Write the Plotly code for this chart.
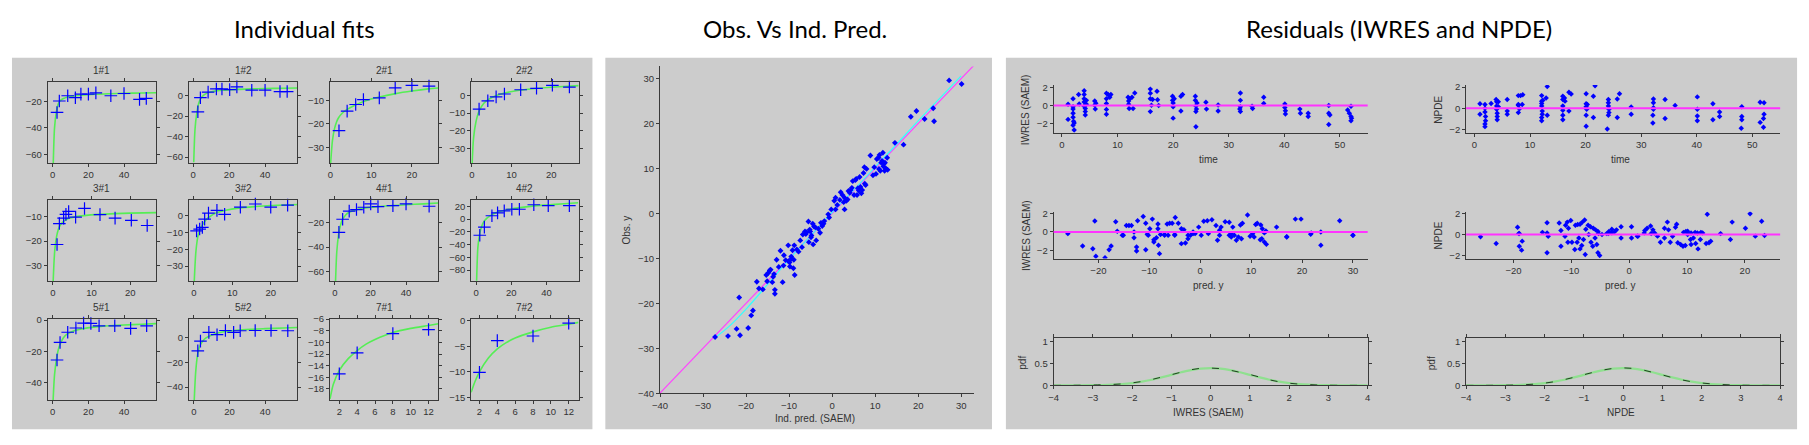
import plotly.graph_objects as go

W, H = 1809, 445

# ---------------- Individual fits data ----------------
obs_t_11 = [2.4, 3.7, 8.4, 12.7, 15.8, 20, 24.2, 32.6, 40, 48.7, 52.5]
obs_y_11 = [-28.2, -19.5, -15.5, -17, -14.3, -14.3, -13.3, -15.5, -13.8, -18.3, -17.5]
fit_t_11 = [0.3, 1, 2, 3, 4, 6, 8, 12, 16, 24, 32, 40, 50, 58]
fit_y_11 = [-66.7, -40, -28, -22, -19.5, -17.6, -16.6, -15.7, -15.1, -14.4, -14, -13.7, -13.4, -13.2]

obs_t_12 = [2.6, 4, 8.3, 12.9, 16, 20.3, 24.3, 32.6, 40, 48.3, 52.3]
obs_y_12 = [-15.9, -2.2, 3.2, 6.3, 6.3, 5.7, 8.3, 5.1, 5.1, 3.8, 3.8]
fit_t_12 = [0.3, 1, 2, 3, 4, 6, 8, 12, 16, 24, 32, 40, 50, 58]
fit_y_12 = [-65, -33, -17, -8, -3.5, 0.5, 2.5, 4.2, 5.0, 5.9, 6.4, 6.7, 7.0, 7.2]

obs_t_21 = [2.1, 4.1, 6.2, 8.1, 12, 15.9, 20, 24.2]
obs_y_21 = [-22.9, -14.6, -11.8, -9.7, -9.0, -4.8, -3.7, -4.0]
fit_t_21 = [0.05, 0.5, 1, 1.5, 2, 3, 4, 6, 8, 10, 12, 16, 20, 24, 26.5]
fit_y_21 = [-36.6, -27, -22, -19.2, -17.4, -15.3, -14, -12.1, -10.6, -9.5, -8.6, -7.2, -6.1, -5.2, -4.8]

obs_t_22 = [1.8, 4, 6.1, 8.2, 12.3, 16.3, 20.3, 24.6]
obs_y_22 = [-7.8, -3.1, -0.9, 0.7, 3.1, 3.9, 5.6, 4.6]
fit_t_22 = [0.05, 0.4, 1, 1.8, 3, 4, 6, 8, 12, 16, 20, 24, 27]
fit_y_22 = [-38, -24, -15, -8.8, -4.5, -2.6, -0.3, 1.1, 2.8, 3.8, 4.5, 5, 5.4]

obs_t_31 = [1.1, 1.7, 2.8, 3.4, 4.1, 5.9, 8.2, 12.2, 16.1, 20.3, 24.4]
obs_y_31 = [-21.4, -12.9, -10.7, -9.2, -8.0, -10.3, -6.8, -9.3, -10.7, -11.6, -13.7]
fit_t_31 = [0.1, 0.5, 1, 1.5, 2, 3, 4, 6, 8, 12, 16, 20, 26.7]
fit_y_31 = [-36.2, -24, -18, -15, -13.4, -11.7, -10.9, -10.1, -9.7, -9.2, -8.9, -8.7, -8.5]

obs_t_32 = [0.7, 1.5, 2.2, 2.8, 3.8, 6, 8, 12.1, 16, 20, 24.4]
obs_y_32 = [-9.2, -8.1, -7.1, -2.3, 1.3, 2.9, 0.6, 4.8, 6.7, 4.8, 6.0]
fit_t_32 = [0.1, 0.5, 1, 1.5, 2, 3, 4, 6, 8, 12, 16, 20, 27]
fit_y_32 = [-38.8, -22, -13, -9, -6.5, -3, -1, 1.6, 2.9, 4.4, 5.2, 5.8, 6.4]

obs_t_41 = [2.2, 4.3, 8, 12.1, 16.2, 20.1, 24.2, 32.6, 40, 53]
obs_y_41 = [-27.8, -17, -10.3, -9, -7.1, -4.4, -6.6, -5.8, -4.4, -6.3]
fit_t_41 = [0.3, 1, 2, 3, 4, 6, 8, 12, 16, 24, 32, 40, 50, 58]
fit_y_41 = [-68, -44, -30, -22.5, -18, -13.5, -11.3, -9.1, -7.9, -6.6, -5.8, -5.1, -4.3, -3.6]

obs_t_42 = [2.1, 4.7, 9, 12.2, 16, 20.3, 24.6, 32.8, 41, 53]
obs_y_42 = [-25.5, -12.8, 5.1, 9.7, 12.8, 15.3, 15.3, 22.4, 20.9, 20.9]
fit_t_42 = [0.3, 1, 2, 3, 4, 6, 8, 12, 16, 20, 24, 32, 40, 50, 58]
fit_y_42 = [-97, -45, -24, -13, -6, 1, 5, 10.5, 13.5, 15.8, 17.5, 20.2, 22, 24, 25.5]

obs_t_51 = [2.4, 4.1, 8.4, 13, 17.3, 21.4, 26, 34.8, 43.7, 52.7]
obs_y_51 = [-25.5, -14.3, -7.8, -5.1, -2.0, -2.2, -3.7, -3.7, -5.3, -3.7]
fit_t_51 = [0.2, 1, 2, 3, 4, 6, 8, 12, 16, 24, 32, 40, 50, 58]
fit_y_51 = [-51, -35, -25.5, -19.5, -15.8, -11.3, -9, -6.8, -5.7, -4.4, -3.7, -3.2, -2.7, -2.3]

obs_t_52 = [2.2, 3.7, 8.4, 13, 17.7, 22.3, 26, 34.4, 43.3, 52.7]
obs_y_52 = [-10.5, -2.6, 4.5, 2.6, 6.0, 4.5, 5.8, 6.0, 6.0, 5.8]
fit_t_52 = [0.2, 1, 2, 3, 4, 6, 8, 12, 16, 24, 32, 40, 50, 58]
fit_y_52 = [-50.5, -28, -14.5, -8, -4.6, -0.9, 1, 3.4, 4.8, 6.2, 7, 7.5, 8, 8.4]

obs_t_71 = [2, 4, 8, 12]
obs_y_71 = [-15.4, -11.8, -8.5, -7.8]
fit_t_71 = [0.96, 1.33, 2, 3, 4, 5, 6, 8, 10, 12, 13.1]
fit_y_71 = [-19.7, -17.2, -14.8, -12.8, -11.4, -10.3, -9.5, -8.3, -7.6, -7.1, -6.8]

obs_t_72 = [2, 4, 8, 12]
obs_y_72 = [-10.1, -3.9, -3.0, -0.5]
fit_t_72 = [1.07, 1.5, 2, 3, 4, 5, 6, 8, 10, 12, 13.1]
fit_y_72 = [-14.0, -11.9, -10.0, -7.3, -5.5, -4.3, -3.4, -2.2, -1.3, -0.7, -0.35]

subject_labels = ["1#1", "1#2", "2#1", "2#2", "3#1", "3#2", "4#1", "4#2", "5#1", "5#2", "7#1", "7#2"]

# ---------------- Obs vs Ind. pred ----------------
ind_pred = [-27.2, -24.2, -22.2, -21.4, -21.6, -19.5, -18.8, -18.4, -17.5, -17, -16.1, -15.3, -15.1, -14.8,
            -14.5, -14.3, -13.9, -13.7, -13.5, -13.3, -13.3, -12.9, -12, -11.5, -11.3, -11.2, -10.8, -10.2,
            -10.1, -9.8, -9.5, -9.4, -9.2, -9, -8.8, -8.7, -8.9, -8.2, -7.8, -7.4, -7, -6.8, -6.3, -5.9,
            -5.5, -5.4, -5.1, -4.8, -4.5, -4.4, -4.2, -3.7, -3.2, -2.8, -2.3, -2, -1.8, -0.9, -0.7, -0.2,
            0.5, 0.8, 0.8, 1.8, 2, 2.4, 2.7, 2.9, 2.9, 3.3, 3.8, 4.3, 4.6, 4.8, 5.1, 5.4, 5.6, 5.8, 6,
            6.4, 6.6, 6.8, 7, 7.3, 7.5, 7.8, 8, 8.9, 9.5, 9.8, 10.2, 10.4, 10.8, 11, 11.2, 11.4, 11.6,
            11.8, 11.9, 12.2, 12.3, 12.5, 12.8, 12.9, 14.6, 16.6, 18.3, 19.6, 21.5, 23.5, 23.7, 27.2, 30.1,
            -12.4, -9.9, -6.1, -3.9, 1.2, 3.6, 4.1, 6.2, 7.6, 10.9, 12.1, -5.2, -4.9, -2.6]
obs_y = [-27.5, -27.3, -25.7, -27.1, -18.7, -25.5, -22.7, -21.6, -15.2, -16.7, -16.9, -13.7, -15.1, -13.2,
         -12.7, -12.5, -15.3, -14.1, -13.5, -17, -17.9, -10.3, -8.3, -15.3, -11.6, -9.3, -10.4, -7.1,
         -10.6, -11.8, -9.6, -10.1, -8.2, -12.2, -7.1, -13.7, -10.3, -8, -8.5, -6, -7.5, -4.7, -4, -4.2,
         -1.8, -6.4, -4, -4.9, -2.3, -6.9, -2.9, -6, -3.4, -4.3, -2.8, -2.3, -1.7, -0.2, -0.9, 0.9,
         2.8, 3.5, 0.9, 3, 4.7, 4.1, 2.5, 3.5, 0.9, 2.8, 5, 5.2, 5.7, 7.2, 4.1, 7.4, 7.7, 4.1, 5.6,
         8.1, 5.9, 4.5, 5.2, 9.0, 10.3, 6.3, 9.9, 12.9, 8.5, 10.3, 8.8, 12.1, 12.4, 13, 9.5, 11.3, 11.7,
         13.5, 10.5, 9.5, 11.3, 10, 12.4, 9.7, 15.7, 15.3, 21.5, 22.8, 21, 23.4, 20.5, 29.6, 28.8,
         -11.9, -10.9, -4.6, -3.1, 1.9, 3.1, 4.6, 5.1, 6.6, 9.9, 11.1, -3.6, -5.3, -2.1]
cyan_x = [-27, -24, -20, -15, -10, -5, 0, 5, 10, 15, 20, 25, 30]
cyan_y = [-27.5, -25.2, -21.3, -15.8, -10.2, -5.0, 0.2, 5.2, 10.3, 15.4, 20.6, 25.6, 30.6]
identity_xy = [-40, 33]

# ---------------- Residuals ----------------
iw_time = [1.1, 1.1, 2, 2, 2, 2, 2, 2.1, 2.2, 2.2, 2, 3, 3.1, 4, 4, 4, 4, 4, 4.2, 4.2, 4.2, 4.4, 4.4,
           5.9, 5.9, 6, 6.1, 8, 8, 8, 8, 8, 8.3, 8.6, 8.8, 11.9, 12, 12, 12.1, 12.2, 12.6, 12.8, 13.1,
           15.9, 15.9, 15.9, 16.1, 15.9, 16.3, 17.1, 17.2, 17.4, 19.9, 19.9, 20, 20, 20, 20.2, 21.4,
           21.7, 21.4, 24, 24, 24.1, 24.2, 24.1, 24.1, 24.3, 25.9, 26, 28.1, 28.1, 32.1, 32.1, 32.1, 32,
           32.1, 34.2, 34.3, 36.3, 36.3, 40.1, 40.1, 40.2, 40.2, 42.8, 42.9, 44.3, 44.3, 48, 48, 48,
           48.2, 51.4, 51.7, 52, 52, 52, 52.1]
iw_t_val = [0.14, -1.55, 0.76, -0.14, -0.4, -0.86, -1.3, -1.77, -1.95, -2.74, -2.2, 1.23, 0.18, 1.66,
            1.23, 0.76, 0.4, -0.07, -0.32, -0.68, -1.05, 0.58, 0.14, 0.5, 0.04, -0.4, 0.25, 1.37, 0.76,
            0.22, -0.43, -0.97, 1.23, 0.94, 1.23, 0.94, 0.5, 0.14, -0.32, 0.76, 0.94, -0.32, 1.4, 1.84,
            1.37, 0.76, 0.04, -0.68, 0.68, 1.59, 0.65, 0, 1.05, 0.58, 0.29, -0.14, -1.41, 0.76, 1.05,
            1.23, -0.61, 1.05, 0.58, -0.04, -0.4, -0.68, -2.38, 0.29, 0.36, -0.4, 0.07, -0.61, 1.4, 0.58,
            -0.14, -0.4, -0.68, -0.07, -0.32, 0.94, 0.22, 0.18, -0.22, -0.58, -0.94, -0.4, -0.86, -0.86,
            -1.23, 0, -0.86, -2.13, -1.05, -0.5, -0.86, -0.07, -1.23, -1.7, -1.41]

np_time = [1, 1, 1.9, 1.9, 1.9, 2, 2, 1.9, 1.9, 3, 3.9, 4, 4, 4, 4.1, 4.1, 4.1, 4.3, 4.3, 5.9, 5.9, 5.9,
           7.9, 7.9, 7.9, 7.9, 8.1, 8.3, 8.6, 8.7, 12.1, 12.1, 12.1, 12.1, 12.2, 12.2, 12.1, 12.1, 12.3,
           12.9, 13.1, 13.1, 15.9, 15.9, 15.9, 15.9, 15.9, 15.9, 16.2, 16.3, 17, 17.4, 17, 20.1, 20.1,
           20.1, 20.2, 20.1, 20.1, 20.3, 21.4, 21.7, 21.4, 24.1, 24.1, 24.1, 24.2, 24.2, 24.1, 23.9,
           25.7, 26.1, 25.7, 28.2, 28.2, 32.2, 32.2, 32.2, 32.2, 32.1, 32.1, 34.3, 34.3, 36.1, 40.1,
           40.1, 40.1, 40.1, 42.9, 42.9, 44.1, 44.1, 48.1, 48.1, 48.1, 48, 51.4, 52.1, 51.4, 52, 52.1, 52]
np_t_val = [0.43, -0.55, 0.37, 0, -0.34, -0.77, -1.17, -1.48, -1.72, 0.46, 0.83, 0.62, 0.22, -0.09,
            -0.46, -0.77, -1.08, 0.62, 0.15, 0.83, -0.25, -0.55, 1.2, 0.37, -0.4, 0.3, -0.03, 1.2, 0.37,
            1.29, 1.2, 0.68, 0.46, 0.22, -0.25, -0.55, -0.86, -1.17, 0.77, 0.98, -0.65, 2.06, 1.14, 0.83,
            0.22, -0.18, -0.65, -1.08, 0.98, 0.68, 1.51, 1.35, -0.25, 1.38, 0.43, 0.15, -0.09, -0.65,
            -1.69, 0.37, 1.14, 2.12, -0.86, 0.83, 0.52, 0.22, -0.09, -0.4, -0.65, -1.94, 0.89, 1.38,
            -0.86, 0.12, -0.55, 0.89, 0.52, 0.06, -0.09, -0.65, -1.38, 0.83, -0.95, 0.28, 1.08, -0.09,
            -0.71, -1.17, 0.43, -1.08, -0.34, -0.77, 0.15, -0.77, -1.08, -1.88, 0.58, 0.52, -1.32, -0.95,
            -0.55, -1.78]

iw_pred = [-26, -20.7, -16.6, -16.3, -15.1, -14.5, -14, -13.5, -13, -12.3, -11.2, -10.7, -10.2, -9.4,
           -9.9, -8.3, -8.3, -7.8, -7, -6.5, -6, -5.5, -4.9, -5, -4.3, -3.7, -3.2, -2.4, -1.4, -1,
           -0.3, 0.7, 1.4, 2.3, 3.1, 3.8, 4.1, 4.9, 5.7, 6.4, 6.1, 6.7, 7.9, 8.3, 9.3, 10.3, 10.9, 11.2,
           11.9, 12.2, 12.6, 12.9, 15, 17, 18.7, 19.8, 21.8, 23.7, 27.4, 30,
           -23.1, -21.1, -20.5, -18.7, -17.9, -17.5, -15.3, -13, -12.5, -12.5, -10.7, -10.4, -9.1, -9.1,
           -8.6, -8.2, -8, -7, -6.3, -5, -3.7, -2.9, -2.4, -1.9, -1.4, 0.2, 1.6, 3.4, 3.8, 5.7, 6.1,
           7.1, 7.5, 8.1, 9.8, 10.6, 11.8, 12.1, 12.6, 13, 17, 21.7, 23.7, 30]
iw_p_val = [-0.18, 1.19, 1.12, 0.07, -0.35, 0.7, 0.7, 0.7, 0, 1.23, 1.68, 0.95, -0.35, 1.4, 0.35, 0.88,
            0.35, -0.28, -0.28, 0.88, 0.95, 0.95, 1.58, -0.28, 0.95, 0.35, 0.25, -0.35, 0, -0.18, 0.53,
            1.16, 1.23, 1.33, 0.7, 0.18, 0.53, 1.12, 1.05, 0.53, -0.18, -0.35, 0.77, 0.95, 1.86, -0.18,
            0.81, 0.95, 0.77, 0.35, -0.1, 0.1, 0.53, -0.53, 1.4, 1.4, -0.1, 0, 1.23, -0.35,
            -1.53, -1.82, -2.65, -2.8, -1.93, -1.53, -0.36, -0.62, -1.64, -2.07, -1.93, -0.25, -0.84,
            -1.09, -0.62, -1.45, -2.36, -0.36, -0.36, -0.36, -1.27, -1.2, -0.73, -0.36, -0.18, -0.36,
            -0.18, -0.91, -0.36, -0.36, -0.55, -0.91, -0.55, -0.73, -0.47, -0.55, -0.84, -0.73, -1.09,
            -1.35, -0.55, -0.25, -1.45, -0.36]

np_pred = [-25.7, -19.3, -19.1, -15, -14.2, -14.2, -12.1, -11.8, -11, -10.7, -10.5, -10.1, -9.3, -8.9,
           -8.5, -8.1, -7.7, -7.5, -7.1, -6.7, -6.2, -5.8, -5.4, -5.3, -3.9, -3.5, -3, -2.5, -2.2, -1.4,
           0.4, 1.4, 2.7, 3.1, 3.7, 4.1, 4.4, 4.9, 6.1, 6.6, 6.8, 8, 8.2, 9.4, 9.8, 10.1, 10.7, 11.4,
           11.8, 12.4, 13.5, 15.8, 17.8, 20.1, 20.9, 21.8, 22.9,
           -23, -19, -19, -18.6, -18.5, -14.2, -14, -11.8, -11.1, -10.6, -9.9, -9.4, -9, -8.7, -8.5,
           -8.2, -7.9, -7.6, -7, -6.6, -6.3, -5.9, -5.6, -5.4, -5.1, -4.7, -3.6, -3, -1.4, 0.4, 1.5,
           2.6, 3.8, 5.4, 6.1, 7.1, 7.5, 8.4, 8.9, 9.3, 9.7, 10.1, 10.6, 10.7, 11.1, 11.5, 11.9, 12.3,
           12.7, 13.3, 13.8, 14.1, 17.5, 23.4]
np_p_val = [-0.2, 0.69, 0.09, 0.21, 1.13, 0.15, 1.1, 0.39, 0.9, 1.19, 0.6, 1.34, 0.9, 0.96, 0.99, 1.19,
            1.4, 0.51, 0.9, 0.75, 0.6, 0.45, 0.3, 0.09, 0.09, 0.3, 0.51, 0.3, 0.45, 0.75, 0.75, -0.15,
            0.39, 0.6, 0.81, 0.45, 0.15, -0.15, 0.6, 1.19, 0.45, 0.69, 0.99, 0.21, 0.3, 0, 0.15, 0.21,
            0.15, 0.21, 1.94, 0.09, 1.19, 0.6, 2.0, -0.15, 1.28,
            -0.86, 0.1, -1.11, -1.49, -0.63, -1.75, -0.16, -1.11, -0.16, -0.73, -0.73, -1.43, -0.73,
            -0.32, -1.37, -1.05, -0.48, -1.9, 0, -0.73, -1.11, -0.32, -0.95, -1.75, -2.0, 0, 0.1, 0.16,
            -0.32, -0.32, -0.16, 0.16, 0.1, -0.73, -0.32, -0.73, -0.16, -0.79, -0.95, -1.11, -1.05,
            0.32, -0.48, -0.95, -0.32, -0.86, -1.37, -0.48, 0.16, -0.86, -0.79, -0.63, -0.48, -0.1, -0.63]

pdf_x = [-4, -3.5, -3, -2.75, -2.5, -2.25, -2, -1.75, -1.5, -1.25, -1, -0.75, -0.5, -0.25, 0,
         0.25, 0.5, 0.75, 1, 1.25, 1.5, 1.75, 2, 2.25, 2.5, 2.75, 3, 3.5, 4]
pdf_theory = [0.0, 0.001, 0.004, 0.009, 0.018, 0.032, 0.054, 0.086, 0.13, 0.183, 0.242, 0.301, 0.352,
              0.387, 0.399, 0.387, 0.352, 0.301, 0.242, 0.183, 0.13, 0.086, 0.054, 0.032, 0.018, 0.009,
              0.004, 0.001, 0.0]
pdf_iwres_emp = [0.0, 0.002, 0.008, 0.014, 0.022, 0.035, 0.058, 0.09, 0.135, 0.19, 0.245, 0.305, 0.36,
                 0.392, 0.398, 0.385, 0.348, 0.3, 0.25, 0.19, 0.128, 0.082, 0.05, 0.03, 0.018, 0.008,
                 0.003, 0.001, 0.0]
pdf_npde_emp = [0.0, 0.001, 0.004, 0.008, 0.016, 0.03, 0.052, 0.085, 0.132, 0.186, 0.245, 0.303, 0.355,
                0.39, 0.402, 0.39, 0.355, 0.3, 0.24, 0.18, 0.126, 0.084, 0.055, 0.035, 0.02, 0.01,
                0.004, 0.001, 0.0]

# ---------------- layout helpers ----------------
def xd(x0, x1):
    return [x0 / W, x1 / W]

def yd(y0, y1):
    return [1 - y1 / H, 1 - y0 / H]

AX_COL = "#3a3a3a"
TICK_FONT = dict(family="Liberation Sans, Arial, sans-serif", size=9.5, color="#333333")
LBL_FONT = dict(family="Liberation Sans, Arial, sans-serif", size=10, color="#333333")
BLUE = "#0000ff"
LIME = "#55ee55"

fig = go.Figure()
layout = {}

def make_axes(n, xpx, ypx, xr, yr, xdt=None, ydt=None, xtv=None, ytv=None, mirror=True):
    common = dict(showline=True, linecolor=AX_COL, linewidth=1, ticks="outside", ticklen=3,
                  tickcolor=AX_COL, showgrid=False, zeroline=False, tickfont=TICK_FONT,
                  mirror="ticks" if mirror else False, fixedrange=True)
    xa = dict(common, domain=xd(*xpx), range=xr, anchor="y%d" % n)
    ya = dict(common, domain=yd(*ypx), range=yr, anchor="x%d" % n)
    if xdt is not None:
        xa["dtick"] = xdt
        xa["tick0"] = 0
    if ydt is not None:
        ya["dtick"] = ydt
        ya["tick0"] = 0
    if xtv is not None:
        xa["tickvals"] = xtv
    if ytv is not None:
        ya["tickvals"] = ytv
    layout["xaxis%d" % n] = xa
    layout["yaxis%d" % n] = ya

def text_at(t, x, y, font, angle=0):
    return dict(text=t, xref="paper", yref="paper", x=x / W, y=1 - y / H, textangle=angle,
                showarrow=False, font=font, xanchor="center", yanchor="middle")

# Individual fits grid
cols = [(40, 149), (182, 291), (324, 433), (466, 574)]
rows = [(78, 161), (199, 282), (321, 404)]
fits = [
    (obs_t_11, obs_y_11, fit_t_11, fit_y_11, [-2.8, 58], [-66.7, -5.1], 20, 20),
    (obs_t_12, obs_y_12, fit_t_12, fit_y_12, [-2.4, 57.9], [-65.7, 13], 20, 20),
    (obs_t_21, obs_y_21, fit_t_21, fit_y_21, [-0.1, 26.5], [-36.6, -2.3], 10, 10),
    (obs_t_22, obs_y_22, fit_t_22, fit_y_22, [-0.2, 26.9], [-38, 7.4], 10, 10),
    (obs_t_31, obs_y_31, fit_t_31, fit_y_31, [-1.3, 26.7], [-36.2, -3.4], 10, 10),
    (obs_t_32, obs_y_32, fit_t_32, fit_y_32, [-1.3, 26.9], [-38.8, 9], 10, 10),
    (obs_t_41, obs_y_41, fit_t_41, fit_y_41, [-2.8, 58.2], [-68, -1.2], 20, 20),
    (obs_t_42, obs_y_42, fit_t_42, fit_y_42, [-2.8, 58.2], [-97.3, 29.7], 20, 20),
    (obs_t_51, obs_y_51, fit_t_51, fit_y_51, [-2.8, 58], [-51, 0.6], 20, 20),
    (obs_t_52, obs_y_52, fit_t_52, fit_y_52, [-2.8, 58], [-50.5, 15.3], 20, 20),
    (obs_t_71, obs_y_71, fit_t_71, fit_y_71, [0.96, 13.1], [-19.9, -6], 2, 2),
    (obs_t_72, obs_y_72, fit_t_72, fit_y_72, [1.07, 13.1], [-15.5, 0.3], 2, 5),
]

annotations = []
shapes = []

# grey panels
for (x0, x1) in [(4, 588), (601, 990), (1004, 1800)]:
    shapes.append(dict(type="rect", xref="paper", yref="paper", x0=x0 / W, x1=x1 / W,
                       y0=1 - 434 / H, y1=1 - 53 / H, fillcolor="#cccccc", line_width=0, layer="below"))

for i, (ot, oy, ft, fy, xr, yr, xdt, ydt) in enumerate(fits):
    n = i + 1
    r, c = divmod(i, 4)
    make_axes(n, cols[c], rows[r], xr, yr, xdt, ydt)
    fig.add_trace(go.Scatter(x=ft, y=fy, mode="lines", line=dict(color=LIME, width=1.6, shape="spline", smoothing=0.7),
                             xaxis="x%d" % n, yaxis="y%d" % n, showlegend=False, hoverinfo="skip"))
    fig.add_trace(go.Scatter(x=ot, y=oy, mode="markers",
                             marker=dict(symbol="cross-thin-open", size=9, color=BLUE, line=dict(color=BLUE, width=1.2)),
                             xaxis="x%d" % n, yaxis="y%d" % n, showlegend=False, cliponaxis=False))
    annotations.append(text_at(subject_labels[i], (cols[c][0] + cols[c][1]) / 2, rows[r][0] - 12, LBL_FONT))

# Middle plot
make_axes(13, (656, 972), (62, 397), [-40, 33], [-40, 32.7], 10, 10, mirror=False)
fig.add_trace(go.Scatter(x=identity_xy, y=identity_xy, mode="lines", line=dict(color="#ff44ff", width=1.2),
                         xaxis="x13", yaxis="y13", showlegend=False))
fig.add_trace(go.Scatter(x=cyan_x, y=cyan_y, mode="lines", line=dict(color="#33ffff", width=1.2, shape="spline"),
                         xaxis="x13", yaxis="y13", showlegend=False))
fig.add_trace(go.Scatter(x=ind_pred, y=obs_y, mode="markers", marker=dict(symbol="diamond", size=4.5, color=BLUE),
                         xaxis="x13", yaxis="y13", showlegend=False))
annotations.append(text_at("Obs. y", 622, 230, LBL_FONT, -90))
annotations.append(text_at("Ind. pred. (SAEM)", 812, 423, LBL_FONT))

# Residual plots
rc1, rc2 = (1052, 1368), (1467, 1783)
rr1, rr2, rr3 = (81, 130), (211, 259), (340, 389)
res = [
    (14, rc1, rr1, iw_time, iw_t_val, [-1.5, 55], [-3.05, 2.3]),
    (15, rc2, rr1, np_time, np_t_val, [-1.5, 55], [-2.3, 2.2]),
    (16, rc1, rr2, iw_pred, iw_p_val, [-28.8, 32.9], [-2.9, 2.2]),
    (17, rc2, rr2, np_pred, np_p_val, [-28.2, 26.1], [-2.3, 2.18]),
]
for (n, xp, yp, xs, ys, xr, yr) in res:
    make_axes(n, xp, yp, xr, yr, 10, None, ytv=[-2, 0, 2], mirror=False)
    shapes.append(dict(type="line", xref="x%d domain" % n, yref="y%d" % n, x0=0, x1=1, y0=0, y1=0,
                       line=dict(color="#ff33ff", width=2)))
    fig.add_trace(go.Scatter(x=xs, y=ys, mode="markers", marker=dict(symbol="diamond", size=4.2, color=BLUE),
                             xaxis="x%d" % n, yaxis="y%d" % n, showlegend=False))

for (n, xp, emp) in [(18, rc1, pdf_iwres_emp), (19, rc2, pdf_npde_emp)]:
    make_axes(n, xp, rr3, [-4, 4], [0, 1.1], 1, None, ytv=[0, 0.5, 1], mirror=True)
    fig.add_trace(go.Scatter(x=pdf_x, y=pdf_theory, mode="lines", line=dict(color="#8fe08f", width=2.2, shape="spline"),
                             xaxis="x%d" % n, yaxis="y%d" % n, showlegend=False))
    fig.add_trace(go.Scatter(x=pdf_x, y=emp, mode="lines",
                             line=dict(color="#203a20", width=1.0, dash="7px,13px", shape="spline"),
                             xaxis="x%d" % n, yaxis="y%d" % n, showlegend=False))

axis_labels = [
    ("IWRES (SAEM)", 1024, 106, -90), ("time", 1208, 157, 0),
    ("NPDE", 1439, 106, -90), ("time", 1622, 157, 0),
    ("IWRES (SAEM)", 1024, 235, -90), ("pred. y", 1208, 287, 0),
    ("NPDE", 1439, 235, -90), ("pred. y", 1622, 287, 0),
    ("pdf", 1021, 366, -90), ("IWRES (SAEM)", 1208, 417, 0),
    ("pdf", 1433, 366, -90), ("NPDE", 1623, 417, 0),
]
for (t, x, y, a) in axis_labels:
    annotations.append(text_at(t, x, y, LBL_FONT, a))

# Big titles
TITLE_FONT = dict(family="Lato, Open Sans, sans-serif", size=24, color="#000000")
for (t, x) in [("Individual fits", 298), ("Obs. Vs Ind. Pred.", 792), ("Residuals (IWRES and NPDE)", 1400)]:
    annotations.append(text_at(t, x, 23, TITLE_FONT))

layout.update(dict(width=W, height=H, margin=dict(l=0, r=0, t=0, b=0), paper_bgcolor="white",
                   plot_bgcolor="white", annotations=annotations, shapes=shapes, showlegend=False))
fig.update_layout(**layout)
fig.write_html("out.html", config={"displayModeBar": False},
               post_script=("document.documentElement.style.margin='0px';"
                            "document.body.style.margin='0px';document.body.style.padding='0px';"
                            "document.body.style.overflow='hidden';"
                            "var d=document.getElementById('{plot_id}');"
                            "d.style.position='absolute';d.style.left='0px';d.style.top='0px';"
                            "window.scrollTo(0,0);"))
